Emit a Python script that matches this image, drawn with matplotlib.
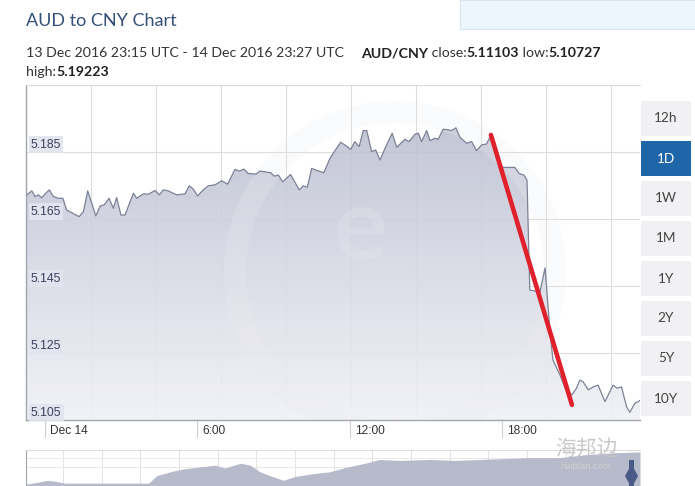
"""
AUD/CNY one-day chart, 13-14 Dec 2016
"""

import numpy as np
import matplotlib.pyplot as plt
from matplotlib.patches import Rectangle, Ellipse, Polygon
from matplotlib.colors import LinearSegmentedColormap

# hours since 14 Dec 2016 00:00 UTC, and the AUD/CNY rate
hours = [-0.72, -0.52, -0.39, -0.26, -0.13, 0.00, 0.17, 0.33, 0.52, 0.70,
         0.85, 1.05, 1.34, 1.51, 1.68, 1.84, 2.00, 2.17, 2.33, 2.52,
         2.69, 2.82, 2.99, 3.15, 3.48, 3.61, 3.87, 4.07, 4.33, 4.50,
         4.66, 4.85, 5.19, 5.51, 5.68, 5.84, 6.01, 6.23, 6.43, 6.69,
         6.96, 7.19, 7.48, 7.65, 7.83, 8.00, 8.31, 8.46, 8.73, 8.89,
         9.02, 9.19, 9.36, 9.67, 10.01, 10.17, 10.33, 10.50, 10.67, 10.98,
         11.22, 11.48, 11.64, 11.81, 12.04, 12.20, 12.37, 12.53, 12.67, 12.86,
         13.02, 13.19, 13.39, 13.67, 13.85, 14.17, 14.33, 14.57, 14.70, 14.83,
         15.03, 15.16, 15.35, 15.48, 15.68, 15.88, 16.01, 16.18, 16.34, 16.60,
         16.80, 16.99, 17.19, 17.39, 17.56, 17.91, 18.04, 18.50, 18.67, 18.86,
         18.98, 19.09, 19.49, 19.69, 19.88, 20.00, 20.28, 20.51, 20.75, 20.93,
         21.06, 21.19, 21.39, 21.59, 21.78, 22.05, 22.37, 22.53, 22.70, 22.90,
         23.03, 23.23, 23.36, 23.46]
rates = [5.1722, 5.1734, 5.1717, 5.1722, 5.1713, 5.1725, 5.1737, 5.1717, 5.1712, 5.1712,
         5.1677, 5.1669, 5.1657, 5.1672, 5.1734, 5.1697, 5.1659, 5.1689, 5.1692, 5.1712,
         5.1682, 5.1714, 5.1662, 5.1662, 5.1727, 5.1712, 5.1725, 5.1724, 5.1735, 5.1722,
         5.1737, 5.1734, 5.1722, 5.1725, 5.1749, 5.1739, 5.1719, 5.1737, 5.1749, 5.1752,
         5.1764, 5.1754, 5.1798, 5.1793, 5.1799, 5.1786, 5.1784, 5.1793, 5.1790, 5.1788,
         5.1778, 5.1781, 5.1761, 5.1783, 5.1737, 5.1749, 5.1745, 5.1801, 5.1796, 5.1788,
         5.1831, 5.1861, 5.1879, 5.1871, 5.1858, 5.1881, 5.1866, 5.1914, 5.1914, 5.1851,
         5.1856, 5.1826, 5.1861, 5.1906, 5.1864, 5.1888, 5.1881, 5.1903, 5.1906, 5.1881,
         5.1914, 5.1884, 5.1891, 5.1888, 5.1918, 5.1916, 5.1914, 5.1922, 5.1894, 5.1876,
         5.1881, 5.1854, 5.1871, 5.1874, 5.1901, 5.1811, 5.1804, 5.1804, 5.1786, 5.1781,
         5.1766, 5.1438, 5.1432, 5.1504, 5.1319, 5.1229, 5.1184, 5.1140, 5.1125, 5.1145,
         5.1169, 5.1164, 5.1140, 5.1149, 5.1154, 5.1105, 5.1154, 5.1145, 5.1149, 5.1090,
         5.1073, 5.1100, 5.1105, 5.1110]

y_ticks = [5.105, 5.125, 5.145, 5.165, 5.185]
x_ticks = [0, 6, 12, 18]
x_labels = ["Dec 14", "6:00", "12:00", "18:00"]
ranges = ["12h", "1D", "1W", "1M", "1Y", "2Y", "5Y", "10Y"]
active_range = "1D"

# hand-drawn red marker over the drop
drop_hours = [17.56, 20.75]
drop_rates = [5.1901, 5.1095]

# navigator (long history), fraction of period and relative level
nav_pos = [0.00, 0.02, 0.035, 0.047, 0.064, 0.20, 0.213, 0.235, 0.256, 0.283,
           0.308, 0.324, 0.349, 0.365, 0.381, 0.397, 0.419, 0.438, 0.467, 0.495,
           0.523, 0.552, 0.576, 0.609, 0.658, 0.699, 0.739, 0.780, 0.821, 0.870,
           0.910, 0.956, 1.00]
nav_level = [0, 2, 4, 3, 1, 1, 9, 13, 16, 18,
             20, 17, 22, 20, 13, 9, 4, 8, 11, 13,
             18, 22, 26, 25, 26, 25, 26, 27, 28, 28,
             31, 33, 34]

W, H = 695, 486
fig = plt.figure(figsize=(W / 100, H / 100), dpi=100)
fig.patch.set_facecolor("white")


def fx(px):
    return px / W


def fy(py):
    return 1 - py / H


TEXT = "#333333"
SANS = ["Lato", "DejaVu Sans"]
ARIAL = ["Liberation Sans", "DejaVu Sans"]

# header
fig.patches.append(Rectangle((fx(460), fy(29)), fx(240), 29 / H, transform=fig.transFigure,
                             facecolor="#eef6fd", edgecolor="#d4e4f2", lw=0.8))
fig.text(fx(26), fy(21), "AUD to CNY Chart", family=SANS, fontsize=13,
         color="#34507a", va="center", ha="left")

renderer = fig.canvas.get_renderer()


def write_run(x, y, parts):
    for s, bold in parts:
        t = fig.text(x, y, s, family=SANS, fontsize=10.2, color="#222222" if bold else TEXT,
                     weight="bold" if bold else "normal", va="center", ha="left")
        bb = t.get_window_extent(renderer)
        x = bb.x1 / fig.bbox.width


write_run(fx(26), fy(53), [("13 Dec 2016 23:15 UTC - 14 Dec 2016 23:27 UTC", False)])
write_run(fx(361), fy(53), [("AUD/CNY", True), (" close:", False), ("5.11103", True),
                            (" low:", False), ("5.10727", True)])
write_run(fx(26), fy(72), [("high:", False), ("5.19223", True)])

# main chart
ax = fig.add_axes([fx(26), fy(420), fx(614), 335 / H])
ax.set_xlim(-0.75, 23.43)
ax.set_ylim(5.105, 5.205)
ax.set_facecolor("white")

for g in np.arange(-0.75 + 2.56, 23.43, 2.56):
    ax.axvline(g, color="#dcdcdc", lw=0.8, zorder=0)
for v in y_ticks[1:] + [5.205]:
    ax.axhline(v, color="#dcdcdc", lw=0.8, zorder=0)

fill = ax.fill_between(hours, rates, 5.105, facecolor="none", edgecolor="none")
cmap = LinearSegmentedColormap.from_list("fade", ["#bcbfd1", "#f1f2f7"])
grad = ax.imshow(np.linspace(0, 1, 256).reshape(-1, 1), cmap=cmap, aspect="auto",
                 extent=[-0.75, 23.43, 5.105, 5.195], origin="upper", zorder=1, alpha=0.9)
grad.set_clip_path(fill.get_paths()[0], transform=ax.transData)

# faint xe logo ring, inside the chart under the line
ax.add_patch(Ellipse((fx(395), fy(272)), 320 / W, 320 / H, transform=fig.transFigure,
                     fill=False, edgecolor="#ffffff", lw=16, alpha=0.2, zorder=2))
ax.add_patch(Ellipse((fx(395), fy(272)), 320 / W, 320 / H, transform=fig.transFigure,
                     fill=False, edgecolor="#b0b4c6", lw=16, alpha=0.05, zorder=2))
ax.text(fx(360), fy(230), "e", transform=fig.transFigure, family=SANS, fontsize=72,
        weight="bold", color="#ffffff", alpha=0.12, ha="center", va="center", zorder=2)

ax.plot(hours, rates, color="#7c8196", lw=0.9, zorder=3)
ax.plot(drop_hours, drop_rates, color="#e0202b", lw=3.3, solid_capstyle="round", zorder=5)

ax.spines["right"].set_visible(False)
ax.spines["top"].set_color("#dddddd")
for spine in ["left", "bottom"]:
    ax.spines[spine].set_color("#a3a5ad")
    ax.spines[spine].set_linewidth(1.0)
ax.set_xticks([])
ax.set_yticks([])

for v in y_ticks:
    ax.text(0.008, v + 0.0004, f"{v:.3f}", transform=ax.get_yaxis_transform(),
            family=ARIAL, fontsize=8.8, color="#3a3f5c", va="bottom", ha="left", zorder=6,
            bbox=dict(boxstyle="square,pad=0.18", facecolor="#e2e4ef", edgecolor="none", alpha=0.95))

for t, lab in zip(x_ticks, x_labels):
    ax.plot([t, t], [0, -0.05], transform=ax.get_xaxis_transform(), color="#d0d0d0",
            lw=0.8, clip_on=False)
    ax.text(t + 0.2, -0.015, lab, transform=ax.get_xaxis_transform(), family=ARIAL,
            fontsize=8.6, color=TEXT, va="top", ha="left")

# range buttons
for i, lab in enumerate(ranges):
    top = 101 + 40 * i
    active = lab == active_range
    fig.patches.append(Rectangle((fx(641), fy(top + 35)), fx(50), 35 / H,
                                 transform=fig.transFigure,
                                 facecolor="#1f66a9" if active else "#f1f1f3", edgecolor="none"))
    fig.text(fx(666), fy(top + 17.5), lab, family=SANS, fontsize=9.8,
             color="white" if active else "#444444", ha="center", va="center")

# navigator
nav = fig.add_axes([fx(26), 0, fx(614), 36 / H])
nav.set_xlim(0, 1)
nav.set_ylim(-2, 36)
for g in np.arange(0.06, 1, 0.063):
    nav.axvline(g, color="#e2e2e2", lw=0.7, zorder=0)
for v in [18, 28]:
    nav.axhline(v, color="#e8e8e8", lw=0.7, zorder=0)
nav.fill_between(nav_pos, nav_level, -2, color="#b6bacb", lw=0, zorder=1)
nav.set_xticks([])
nav.set_yticks([])
nav.spines["right"].set_visible(False)
nav.spines["bottom"].set_visible(False)
nav.spines["top"].set_color("#dddddd")
nav.spines["left"].set_color("#a3a5ad")

# navigator handle
fig.patches.append(Rectangle((fx(629), 0), fx(5), 26 / H, transform=fig.transFigure,
                             facecolor="#4a5a86", edgecolor="none"))
fig.patches.append(Polygon([(fx(631.5), fy(464)), (fx(638), fy(476)), (fx(631.5), fy(488)),
                            (fx(625), fy(476))], closed=True, transform=fig.transFigure,
                           facecolor="#4a5a86", edgecolor="none"))

# site watermark
fig.text(fx(586), fy(449), "海邦边", family=["Noto Sans CJK SC", "DejaVu Sans"],
         fontsize=15, color="#c4c4c4", ha="center", va="center", alpha=0.9)
fig.text(fx(586), fy(466), "haibian.com", family=SANS, fontsize=7,
         color="#d0d0d0", ha="center", va="center")

plt.savefig("out.png", dpi=100)
